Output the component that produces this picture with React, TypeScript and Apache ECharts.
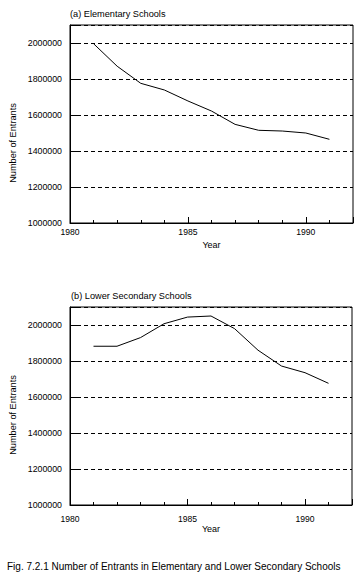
import React, { useEffect, useRef } from "react";
import * as echarts from "echarts";

const years = [1981, 1982, 1983, 1984, 1985, 1986, 1987, 1988, 1989, 1990, 1991];
const elementaryEntrants = [1996000, 1871000, 1776000, 1739000, 1678000, 1622000, 1548000, 1515000, 1511000, 1500000, 1465000];
const lowerSecondaryEntrants = [1882000, 1882000, 1930000, 2007000, 2044000, 2050000, 1980000, 1860000, 1772000, 1735000, 1676000];
const panelTitles = ["(a) Elementary Schools", "(b) Lower Secondary Schools"];
const yAxisTitle = "Number of Entrants";
const xAxisTitle = "Year";
const caption = "Fig. 7.2.1 Number of Entrants in Elementary and Lower Secondary Schools";
const xMin = 1980;
const xMax = 1992;
const yMin = 1000000;
const yMax = 2100000;
const yStep = 200000;

const FONT = "'Liberation Sans', Arial, Helvetica, sans-serif";

export default function App() {
  const ref = useRef<HTMLDivElement>(null);
  useEffect(() => {
    if (!ref.current) return;
    const chart = echarts.init(ref.current, null, { renderer: "svg" });
    const grids = [
      { left: 70, top: 25, width: 283, height: 198 },
      { left: 70, top: 307, width: 282, height: 198 },
    ];
    const labelMargins = [4.5, 9.5];
    const nameGaps = [22, 24.3];
    const xAxes: any[] = [];
    const yAxes: any[] = [];
    grids.forEach((_, i) => {
      xAxes.push({
        type: "value",
        gridIndex: i,
        position: "bottom",
        min: xMin,
        max: xMax,
        interval: 1,
        axisLine: { show: true, onZero: false, lineStyle: { color: "#000", width: 1 } },
        axisTick: { show: true, inside: true, length: 3, lineStyle: { color: "#000", width: 1 } },
        axisLabel: {
          margin: labelMargins[i],
          fontSize: 8.6,
          fontFamily: FONT,
          color: "#000",
          formatter: (v: number) => (v % 5 === 0 && v < xMax ? String(v) : ""),
        },
        splitLine: { show: false },
        name: xAxisTitle,
        nameLocation: "middle",
        nameGap: nameGaps[i],
        nameTextStyle: { fontSize: 9, fontFamily: FONT, color: "#000", verticalAlign: "middle" },
      });
      xAxes.push({
        type: "value",
        gridIndex: i,
        position: "bottom",
        min: xMin,
        max: xMax,
        interval: 5,
        axisLine: { show: false, onZero: false },
        axisTick: { show: true, inside: true, length: 6, lineStyle: { color: "#000", width: 1 } },
        axisLabel: { show: false },
        splitLine: { show: false },
      });
      yAxes.push({
        type: "value",
        gridIndex: i,
        min: yMin,
        max: yMax,
        interval: yStep,
        axisLine: { show: true, onZero: false, lineStyle: { color: "#000", width: 1 } },
        axisTick: { show: true, inside: true, length: 9, lineStyle: { color: "#000", width: 1 } },
        axisLabel: {
          margin: 8,
          fontSize: 8.8,
          fontFamily: FONT,
          color: "#000",
          formatter: (v: number) => (v % yStep === 0 ? String(v) : ""),
        },
        splitLine: { show: true, lineStyle: { color: "#000", width: 1, type: [4, 3] } },
      });
    });

    const option: any = {
      animation: false,
      backgroundColor: "#fff",
      grid: grids.map((g) => ({ ...g, show: true, borderColor: "#000", borderWidth: 1, backgroundColor: "transparent" })),
      xAxis: xAxes,
      yAxis: yAxes,
      series: [
        {
          type: "line",
          xAxisIndex: 0,
          yAxisIndex: 0,
          data: years.map((y, k) => [y, elementaryEntrants[k]]),
          showSymbol: false,
          symbol: "none",
          silent: true,
          lineStyle: { color: "#000", width: 1 },
        },
        {
          type: "line",
          xAxisIndex: 2,
          yAxisIndex: 1,
          data: years.map((y, k) => [y, lowerSecondaryEntrants[k]]),
          showSymbol: false,
          symbol: "none",
          silent: true,
          lineStyle: { color: "#000", width: 1 },
        },
      ],
      graphic: [
        {
          type: "text",
          left: 70,
          top: 9.5,
          style: { text: panelTitles[0], fontSize: 9.2, fontFamily: FONT, fill: "#000" },
        },
        {
          type: "text",
          left: 71,
          top: 291,
          style: { text: panelTitles[1], fontSize: 9.2, fontFamily: FONT, fill: "#000" },
        },
        {
          type: "text",
          x: 13,
          y: 143,
          rotation: Math.PI / 2,
          style: { text: yAxisTitle, fontSize: 9.2, fontFamily: FONT, fill: "#000", align: "center", verticalAlign: "middle" },
        },
        {
          type: "text",
          x: 13,
          y: 415,
          rotation: Math.PI / 2,
          style: { text: yAxisTitle, fontSize: 9.2, fontFamily: FONT, fill: "#000", align: "center", verticalAlign: "middle" },
        },
        {
          type: "text",
          left: 7,
          top: 561,
          style: { text: caption, fontSize: 10, fontFamily: FONT, fill: "#000" },
        },
      ],
    };
    chart.setOption(option);
    return () => chart.dispose();
  }, []);
  return (
    <div
      ref={ref}
      style={{ position: "absolute", left: 0, top: 0, width: 358, height: 579, background: "#fff" }}
    />
  );
}
